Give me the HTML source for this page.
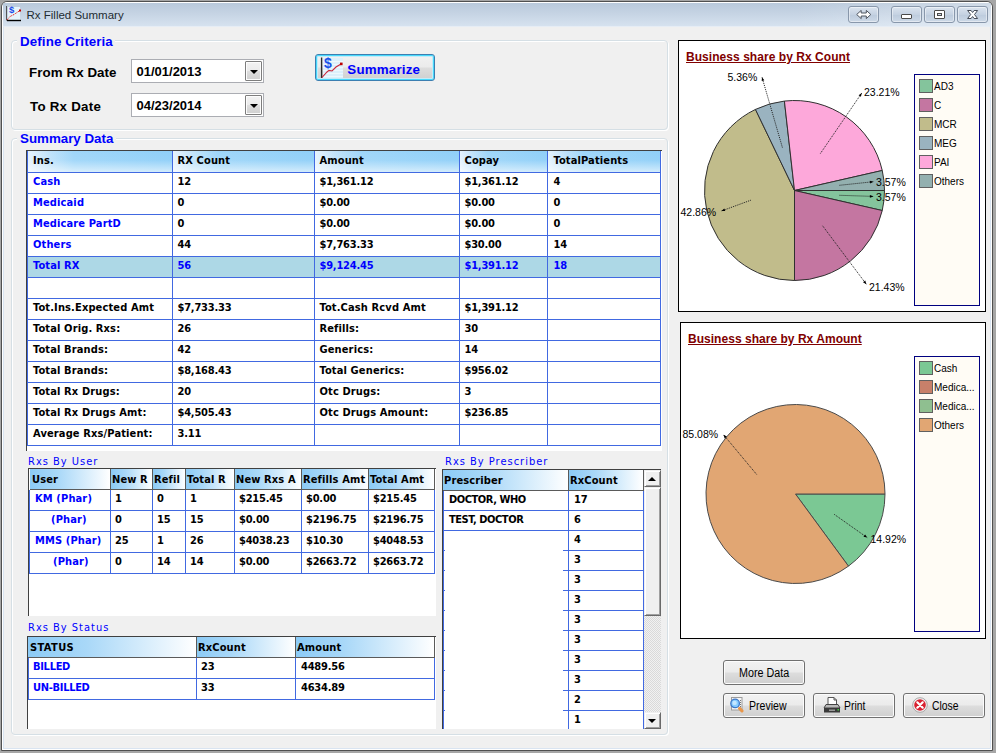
<!DOCTYPE html>
<html>
<head>
<meta charset="utf-8">
<title>Rx Filled Summary</title>
<style>
*{box-sizing:border-box;margin:0;padding:0}
html,body{width:996px;height:753px;overflow:hidden}
body{background:#a6a6a6;font-family:"Liberation Sans",sans-serif;position:relative}
.abs{position:absolute}
#win{position:absolute;left:1px;top:1px;width:992px;height:750px;border:1px solid #505050;border-radius:6px 6px 0 0;background:#f0f0f0;overflow:hidden}
#winin{position:absolute;left:0;top:0;right:0;bottom:0;border:1px solid #fff;border-radius:5px 5px 0 0}
#tbar{position:absolute;left:1px;top:1px;width:988px;height:24px;background:linear-gradient(to right,rgba(255,255,255,0) 0,rgba(255,255,255,0) 80%,rgba(255,255,255,.32) 100%),linear-gradient(#b9c9db 0,#c6d4e4 45%,#d7e3f0 100%)}
#client{position:absolute;left:1px;top:24px;width:988px;height:723px;background:#f0f0f0;border:1px solid #d9e4f1;border-top-color:#e6edf5}
.t{position:absolute;white-space:nowrap;line-height:1}
.ab{font-family:"Liberation Sans",sans-serif;font-weight:bold;font-size:13.33px;letter-spacing:.08px}
.tb{font-family:"DejaVu Sans Condensed","DejaVu Sans",sans-serif;font-weight:bold;font-size:11px;font-stretch:condensed;color:#000}
.lb{font-family:"DejaVu Sans Condensed","DejaVu Sans",sans-serif;font-stretch:condensed;font-size:11px;letter-spacing:1px;color:#0000ff}
.blue{color:#0000ff}
.gb{position:absolute;border:1px solid #d5dfe5;border-radius:4px;box-shadow:1px 1px 0 #fff, inset 1px 1px 0 #fff}
.gbt{position:absolute;background:#f0f0f0;height:14px}
.date{position:absolute;background:#fff;border:1px solid #abadb3;height:24px;width:133px}
.dd{position:absolute;right:1px;top:1px;width:17px;height:20px;border-radius:1px;border:1px solid #7d7d7d;background:linear-gradient(#f2f2f2 0,#ebebeb 48%,#dddddd 52%,#cfcfcf 100%);box-shadow:inset 0 0 0 1px #fcfcfc}
.dd:after{content:"";position:absolute;left:3.5px;top:7.5px;border:4px solid transparent;border-top:4px solid #000;border-bottom:0}
.btn{position:absolute;border:1px solid #707070;border-radius:3px;background:linear-gradient(#f2f2f2 0,#ebebeb 48%,#dddddd 52%,#cfcfcf 100%);box-shadow:inset 0 0 0 1px #fcfcfc}
.grid{position:absolute;background:#fff;overflow:hidden}
.hl{position:absolute;height:1px;background:#4169e1}
.vl{position:absolute;width:1px;background:#4169e1}
.h1{position:absolute;background:linear-gradient(to bottom,rgba(255,255,255,0) 0%,rgba(255,255,255,.06) 45%,rgba(255,255,255,.6) 100%),linear-gradient(to right,#e6f3fd 0%,#c2e3fa 14%,#9fd6f9 32%,#8fcff8 100%)}
.h2{position:absolute;background:linear-gradient(to right,#8ccbf6 0%,#a9d8f8 35%,#ffffff 100%)}
.cap{position:absolute;font-family:"Liberation Sans",sans-serif;font-size:10.5px;color:#000;white-space:nowrap;line-height:1}
.leg{position:absolute;font-family:"Liberation Sans",sans-serif;font-size:10px;color:#000;white-space:nowrap;line-height:1}
.sw{position:absolute;width:14px;height:14px;border:1px solid #606060}
.bt{position:absolute;font-family:"Liberation Sans",sans-serif;font-size:12.5px;color:#000;white-space:nowrap;line-height:1;transform-origin:0 0;transform:scaleX(.86)}
</style>
</head>
<body>

<div id="win">
 <div id="winin"></div>
 <div id="tbar"></div>
 <div id="client"></div>
</div>

<svg class="abs" style="left:6px;top:5px" width="16" height="17" viewBox="0 0 16 17">
 <rect x="2" y="2" width="12" height="13" fill="#e6f4fb"/>
 <path d="M0.5 1V15.5" stroke="#555" stroke-width="1"/>
 <path d="M1 15.5H15" stroke="#000" stroke-width="1.4"/>
 <path d="M1 15 L4 11.5 L8 9.5 L14 5.5" stroke="#e02020" stroke-width="1" fill="none" stroke-dasharray="1.2 0.8"/>
 <rect x="13" y="4.5" width="2" height="2" fill="#c00000"/>
 <text x="3" y="8.4" font-family="Liberation Sans" font-weight="bold" font-size="9.5" fill="#1848e8">$</text>
</svg>
<div class="t" style="left:26.5px;top:10px;font-size:11.5px;color:#222c32">Rx Filled Summary</div>

<div class="abs" style="left:848px;top:6px;width:31px;height:17px;border:1px solid #8897ab;border-radius:3px;background:linear-gradient(#dbe4ef,#c5d2e2 50%,#bccbdd 51%,#cdd9e7);box-shadow:inset 0 0 0 1px rgba(255,255,255,.45)"><svg class="abs" style="left:7px;top:3px" width="16" height="10" viewBox="0 0 16 10"><path d="M0.7 4.5 L5.2 0.4 V3 H10.3 V0.4 L14.8 4.5 L10.3 8.6 V6 H5.2 V8.6 Z" fill="#fff" stroke="#4f5660" stroke-width="1"/></svg></div>
<div class="abs" style="left:891px;top:6px;width:31px;height:17px;border:1px solid #8897ab;border-radius:3px;background:linear-gradient(#dbe4ef,#c5d2e2 50%,#bccbdd 51%,#cdd9e7);box-shadow:inset 0 0 0 1px rgba(255,255,255,.45)"><div class="abs" style="left:9px;top:7px;width:11px;height:5px;border:1px solid #4a4a4a;background:#fff;border-radius:1px"></div></div>
<div class="abs" style="left:924px;top:6px;width:31px;height:17px;border:1px solid #8897ab;border-radius:3px;background:linear-gradient(#dbe4ef,#c5d2e2 50%,#bccbdd 51%,#cdd9e7);box-shadow:inset 0 0 0 1px rgba(255,255,255,.45)"><div class="abs" style="left:9px;top:3px;width:11px;height:9px;border:1px solid #4a4a4a;background:#fff;border-radius:1px"></div><div class="abs" style="left:12px;top:6px;width:5px;height:3px;border:1px solid #4a4a4a;background:#cfd9e6"></div></div>
<div class="abs" style="left:957px;top:6px;width:31px;height:17px;border:1px solid #8897ab;border-radius:3px;background:linear-gradient(#dbe4ef,#c5d2e2 50%,#bccbdd 51%,#cdd9e7);box-shadow:inset 0 0 0 1px rgba(255,255,255,.45)"><svg class="abs" style="left:8.5px;top:3px" width="12" height="10" viewBox="0 0 12 10"><path d="M0.6 0.5 H4.1 L5.6 2.5 L7.1 0.5 H10.6 L7.5 4.5 L10.6 8.5 H7.1 L5.6 6.5 L4.1 8.5 H0.6 L3.7 4.5 Z" fill="#fff" stroke="#454c58" stroke-width="1" stroke-linejoin="round"/></svg></div>
<div class="gb" style="left:11px;top:40px;width:657px;height:90px"></div>
<div class="gbt" style="left:17px;top:35px;width:98px"></div>
<div class="t ab blue" style="left:20px;top:35px;letter-spacing:.12px">Define Criteria</div>
<div class="gb" style="left:11px;top:138px;width:657px;height:597px"></div>
<div class="gbt" style="left:17px;top:132px;width:99px"></div>
<div class="t ab blue" style="left:20px;top:132px;letter-spacing:0">Summary Data</div>
<div class="t ab" style="left:29px;top:66px">From Rx Date</div>
<div class="t ab" style="left:30px;top:100px;letter-spacing:.25px">To Rx Date</div>
<div class="date" style="left:131px;top:59px"><div class="t ab" style="left:4.5px;top:5px;font-size:13px;letter-spacing:0">01/01/2013</div><div class="dd"></div></div>
<div class="date" style="left:131px;top:93px"><div class="t ab" style="left:4.5px;top:5px;font-size:13px;letter-spacing:0">04/23/2014</div><div class="dd"></div></div>
<div class="btn" id="sumbtn" style="left:315px;top:54px;width:120px;height:27px;border-color:#3c7fb1;box-shadow:inset 0 0 0 1px #48d8fb, inset 0 0 0 2px #c4ecf9"></div>
<svg class="abs" style="left:319px;top:57px" width="25" height="22" viewBox="0 0 25 22">
 <rect x="4" y="1" width="20" height="20" fill="#dcf0fb"/>
 <path d="M4 4.5H24M4 7.5H24M4 10.5H24M4 13.5H24M4 16.5H24M4 19.5H24" stroke="#eef8fd" stroke-width="1"/>
 <path d="M2.6 0.5V21" stroke="#2a2a2a" stroke-width="1.4"/>
 <path d="M3 20.5 L8 15 L10 13.4 L13 14 L17 10 L22 7" stroke="#c8283c" stroke-width="1.1" fill="none"/>
 <rect x="21" y="5.6" width="2.6" height="2.6" fill="#c00000"/>
 <text x="5" y="10.6" font-family="Liberation Sans" font-weight="bold" font-size="14" fill="#1a50e8">$</text>
</svg>
<div class="t ab blue" style="left:347.3px;top:63px;letter-spacing:.2px">Summarize</div>

<div class="grid" style="left:26px;top:150px;width:636px;height:301px;border-left:1px solid #404040;border-top:1px solid #404040"></div>
<div class="h1" style="left:28px;top:151px;width:144px;height:21px"></div>
<div class="h1" style="left:173px;top:151px;width:141px;height:21px"></div>
<div class="h1" style="left:315px;top:151px;width:144px;height:21px"></div>
<div class="h1" style="left:460px;top:151px;width:87px;height:21px"></div>
<div class="h1" style="left:548px;top:151px;width:112px;height:21px"></div>
<div class="abs" style="left:28px;top:257px;width:632px;height:20px;background:#add8e6"></div>
<div class="hl" style="left:27px;top:172px;width:634px"></div>
<div class="hl" style="left:27px;top:193px;width:634px"></div>
<div class="hl" style="left:27px;top:214px;width:634px"></div>
<div class="hl" style="left:27px;top:235px;width:634px"></div>
<div class="hl" style="left:27px;top:256px;width:634px"></div>
<div class="hl" style="left:27px;top:277px;width:634px"></div>
<div class="hl" style="left:27px;top:298px;width:634px"></div>
<div class="hl" style="left:27px;top:319px;width:634px"></div>
<div class="hl" style="left:27px;top:340px;width:634px"></div>
<div class="hl" style="left:27px;top:361px;width:634px"></div>
<div class="hl" style="left:27px;top:382px;width:634px"></div>
<div class="hl" style="left:27px;top:403px;width:634px"></div>
<div class="hl" style="left:27px;top:424px;width:634px"></div>
<div class="hl" style="left:27px;top:445px;width:634px"></div>
<div class="vl" style="left:27px;top:151px;height:295px"></div>
<div class="vl" style="left:172px;top:151px;height:295px"></div>
<div class="vl" style="left:314px;top:151px;height:295px"></div>
<div class="vl" style="left:459px;top:151px;height:295px"></div>
<div class="vl" style="left:547px;top:151px;height:295px"></div>
<div class="vl" style="left:660px;top:151px;height:295px"></div>
<div class="t tb " style="left:33px;top:155px;letter-spacing:.13px">Ins.</div>
<div class="t tb " style="left:177.5px;top:155px;letter-spacing:.13px">RX Count</div>
<div class="t tb " style="left:319.5px;top:155px;letter-spacing:.13px">Amount</div>
<div class="t tb " style="left:464.5px;top:155px;letter-spacing:.13px">Copay</div>
<div class="t tb " style="left:553.5px;top:155px;letter-spacing:.13px">TotalPatients</div>
<div class="t tb blue" style="left:33px;top:176px;letter-spacing:.13px">Cash</div>
<div class="t tb " style="left:177.5px;top:176px;letter-spacing:-.2px">12</div>
<div class="t tb " style="left:319.5px;top:176px;letter-spacing:-.2px">$1,361.12</div>
<div class="t tb " style="left:464.5px;top:176px;letter-spacing:-.2px">$1,361.12</div>
<div class="t tb " style="left:553.5px;top:176px;letter-spacing:-.2px">4</div>
<div class="t tb blue" style="left:33px;top:197px;letter-spacing:.13px">Medicaid</div>
<div class="t tb " style="left:177.5px;top:197px;letter-spacing:-.2px">0</div>
<div class="t tb " style="left:319.5px;top:197px;letter-spacing:-.2px">$0.00</div>
<div class="t tb " style="left:464.5px;top:197px;letter-spacing:-.2px">$0.00</div>
<div class="t tb " style="left:553.5px;top:197px;letter-spacing:-.2px">0</div>
<div class="t tb blue" style="left:33px;top:218px;letter-spacing:.13px">Medicare PartD</div>
<div class="t tb " style="left:177.5px;top:218px;letter-spacing:-.2px">0</div>
<div class="t tb " style="left:319.5px;top:218px;letter-spacing:-.2px">$0.00</div>
<div class="t tb " style="left:464.5px;top:218px;letter-spacing:-.2px">$0.00</div>
<div class="t tb " style="left:553.5px;top:218px;letter-spacing:-.2px">0</div>
<div class="t tb blue" style="left:33px;top:239px;letter-spacing:.13px">Others</div>
<div class="t tb " style="left:177.5px;top:239px;letter-spacing:-.2px">44</div>
<div class="t tb " style="left:319.5px;top:239px;letter-spacing:-.2px">$7,763.33</div>
<div class="t tb " style="left:464.5px;top:239px;letter-spacing:-.2px">$30.00</div>
<div class="t tb " style="left:553.5px;top:239px;letter-spacing:-.2px">14</div>
<div class="t tb blue" style="left:33px;top:260px;letter-spacing:.13px">Total RX</div>
<div class="t tb blue" style="left:177.5px;top:260px;letter-spacing:-.2px">56</div>
<div class="t tb blue" style="left:319.5px;top:260px;letter-spacing:-.2px">$9,124.45</div>
<div class="t tb blue" style="left:464.5px;top:260px;letter-spacing:-.2px">$1,391.12</div>
<div class="t tb blue" style="left:553.5px;top:260px;letter-spacing:-.2px">18</div>
<div class="t tb " style="left:33px;top:302px;letter-spacing:.13px">Tot.Ins.Expected Amt</div>
<div class="t tb " style="left:177.5px;top:302px;letter-spacing:-.2px">$7,733.33</div>
<div class="t tb " style="left:319.5px;top:302px;letter-spacing:.13px">Tot.Cash Rcvd Amt</div>
<div class="t tb " style="left:464.5px;top:302px;letter-spacing:-.2px">$1,391.12</div>
<div class="t tb " style="left:33px;top:323px;letter-spacing:.13px">Total Orig. Rxs:</div>
<div class="t tb " style="left:177.5px;top:323px;letter-spacing:-.2px">26</div>
<div class="t tb " style="left:319.5px;top:323px;letter-spacing:.13px">Refills:</div>
<div class="t tb " style="left:464.5px;top:323px;letter-spacing:-.2px">30</div>
<div class="t tb " style="left:33px;top:344px;letter-spacing:.13px">Total Brands:</div>
<div class="t tb " style="left:177.5px;top:344px;letter-spacing:-.2px">42</div>
<div class="t tb " style="left:319.5px;top:344px;letter-spacing:.13px">Generics:</div>
<div class="t tb " style="left:464.5px;top:344px;letter-spacing:-.2px">14</div>
<div class="t tb " style="left:33px;top:365px;letter-spacing:.13px">Total Brands:</div>
<div class="t tb " style="left:177.5px;top:365px;letter-spacing:-.2px">$8,168.43</div>
<div class="t tb " style="left:319.5px;top:365px;letter-spacing:.13px">Total Generics:</div>
<div class="t tb " style="left:464.5px;top:365px;letter-spacing:-.2px">$956.02</div>
<div class="t tb " style="left:33px;top:386px;letter-spacing:.13px">Total Rx Drugs:</div>
<div class="t tb " style="left:177.5px;top:386px;letter-spacing:-.2px">20</div>
<div class="t tb " style="left:319.5px;top:386px;letter-spacing:.13px">Otc Drugs:</div>
<div class="t tb " style="left:464.5px;top:386px;letter-spacing:-.2px">3</div>
<div class="t tb " style="left:33px;top:407px;letter-spacing:.13px">Total Rx Drugs Amt:</div>
<div class="t tb " style="left:177.5px;top:407px;letter-spacing:-.2px">$4,505.43</div>
<div class="t tb " style="left:319.5px;top:407px;letter-spacing:.13px">Otc Drugs Amount:</div>
<div class="t tb " style="left:464.5px;top:407px;letter-spacing:-.2px">$236.85</div>
<div class="t tb " style="left:33px;top:428px;letter-spacing:.13px">Average Rxs/Patient:</div>
<div class="t tb " style="left:177.5px;top:428px;letter-spacing:-.2px">3.11</div>
<div class="t lb" style="left:28px;top:456px">Rxs By User</div>
<div class="t lb" style="left:445px;top:456px">Rxs By Prescriber</div>
<div class="t lb" style="left:28px;top:622px">Rxs By Status</div>
<div class="grid" style="left:28px;top:468px;width:408px;height:148px;border-left:1px solid #404040;border-top:1px solid #404040"></div>
<div class="h2" style="left:30px;top:469px;width:81px;height:21px;border-right:1px solid #5a5a5a;border-bottom:1px solid #5a5a5a"></div>
<div class="h2" style="left:111px;top:469px;width:42px;height:21px;border-right:1px solid #5a5a5a;border-bottom:1px solid #5a5a5a"></div>
<div class="h2" style="left:153px;top:469px;width:33px;height:21px;border-right:1px solid #5a5a5a;border-bottom:1px solid #5a5a5a"></div>
<div class="h2" style="left:186px;top:469px;width:49px;height:21px;border-right:1px solid #5a5a5a;border-bottom:1px solid #5a5a5a"></div>
<div class="h2" style="left:235px;top:469px;width:67px;height:21px;border-right:1px solid #5a5a5a;border-bottom:1px solid #5a5a5a"></div>
<div class="h2" style="left:302px;top:469px;width:67px;height:21px;border-right:1px solid #5a5a5a;border-bottom:1px solid #5a5a5a"></div>
<div class="h2" style="left:369px;top:469px;width:66px;height:21px;border-right:1px solid #5a5a5a;border-bottom:1px solid #5a5a5a"></div>
<div class="hl" style="left:29px;top:510px;width:406px"></div>
<div class="hl" style="left:29px;top:531px;width:406px"></div>
<div class="hl" style="left:29px;top:552px;width:406px"></div>
<div class="hl" style="left:29px;top:573px;width:406px"></div>
<div class="vl" style="left:29px;top:490px;height:84px"></div>
<div class="vl" style="left:110px;top:490px;height:84px"></div>
<div class="vl" style="left:152px;top:490px;height:84px"></div>
<div class="vl" style="left:185px;top:490px;height:84px"></div>
<div class="vl" style="left:234px;top:490px;height:84px"></div>
<div class="vl" style="left:301px;top:490px;height:84px"></div>
<div class="vl" style="left:368px;top:490px;height:84px"></div>
<div class="vl" style="left:434px;top:490px;height:84px"></div>
<div class="t tb " style="left:32px;top:474px;letter-spacing:.13px">User</div>
<div class="t tb " style="left:112px;top:474px;letter-spacing:.13px">New R</div>
<div class="t tb " style="left:154px;top:474px;letter-spacing:.13px">Refil</div>
<div class="t tb " style="left:187px;top:474px;letter-spacing:.13px">Total R</div>
<div class="t tb " style="left:236px;top:474px;letter-spacing:.13px">New Rxs A</div>
<div class="t tb " style="left:303px;top:474px;letter-spacing:.13px">Refills Amt</div>
<div class="t tb " style="left:370px;top:474px;letter-spacing:.13px">Total Amt</div>
<div class="t tb blue" style="left:35px;top:493px;letter-spacing:.13px">KM (Phar)</div>
<div class="t tb " style="left:115px;top:493px;letter-spacing:-.2px">1</div>
<div class="t tb " style="left:157px;top:493px;letter-spacing:-.2px">0</div>
<div class="t tb " style="left:190px;top:493px;letter-spacing:-.2px">1</div>
<div class="t tb " style="left:239px;top:493px;letter-spacing:-.2px">$215.45</div>
<div class="t tb " style="left:306px;top:493px;letter-spacing:-.2px">$0.00</div>
<div class="t tb " style="left:373px;top:493px;letter-spacing:-.2px">$215.45</div>
<div class="t tb blue" style="left:51px;top:514px;letter-spacing:.13px">(Phar)</div>
<div class="t tb " style="left:115px;top:514px;letter-spacing:-.2px">0</div>
<div class="t tb " style="left:157px;top:514px;letter-spacing:-.2px">15</div>
<div class="t tb " style="left:190px;top:514px;letter-spacing:-.2px">15</div>
<div class="t tb " style="left:239px;top:514px;letter-spacing:-.2px">$0.00</div>
<div class="t tb " style="left:306px;top:514px;letter-spacing:-.2px">$2196.75</div>
<div class="t tb " style="left:373px;top:514px;letter-spacing:-.2px">$2196.75</div>
<div class="t tb blue" style="left:35px;top:535px;letter-spacing:.13px">MMS (Phar)</div>
<div class="t tb " style="left:115px;top:535px;letter-spacing:-.2px">25</div>
<div class="t tb " style="left:157px;top:535px;letter-spacing:-.2px">1</div>
<div class="t tb " style="left:190px;top:535px;letter-spacing:-.2px">26</div>
<div class="t tb " style="left:239px;top:535px;letter-spacing:-.2px">$4038.23</div>
<div class="t tb " style="left:306px;top:535px;letter-spacing:-.2px">$10.30</div>
<div class="t tb " style="left:373px;top:535px;letter-spacing:-.2px">$4048.53</div>
<div class="t tb blue" style="left:53px;top:556px;letter-spacing:.13px">(Phar)</div>
<div class="t tb " style="left:115px;top:556px;letter-spacing:-.2px">0</div>
<div class="t tb " style="left:157px;top:556px;letter-spacing:-.2px">14</div>
<div class="t tb " style="left:190px;top:556px;letter-spacing:-.2px">14</div>
<div class="t tb " style="left:239px;top:556px;letter-spacing:-.2px">$0.00</div>
<div class="t tb " style="left:306px;top:556px;letter-spacing:-.2px">$2663.72</div>
<div class="t tb " style="left:373px;top:556px;letter-spacing:-.2px">$2663.72</div>
<div class="grid" style="left:442px;top:469px;width:219px;height:260px;border-left:1px solid #404040;border-top:1px solid #404040"></div>
<div class="h2" style="left:443px;top:470px;width:126px;height:21px;border-right:1px solid #5a5a5a;border-bottom:1px solid #5a5a5a"></div>
<div class="h2" style="left:569px;top:470px;width:75px;height:21px;border-right:1px solid #5a5a5a;border-bottom:1px solid #5a5a5a"></div>
<div class="hl" style="left:443px;top:510px;width:201px"></div>
<div class="hl" style="left:443px;top:530px;width:201px"></div>
<div class="hl" style="left:563px;top:550px;width:81px"></div>
<div class="hl" style="left:443px;top:550px;width:2px"></div>
<div class="hl" style="left:563px;top:570px;width:81px"></div>
<div class="hl" style="left:443px;top:570px;width:2px"></div>
<div class="hl" style="left:563px;top:590px;width:81px"></div>
<div class="hl" style="left:443px;top:590px;width:2px"></div>
<div class="hl" style="left:563px;top:610px;width:81px"></div>
<div class="hl" style="left:443px;top:610px;width:2px"></div>
<div class="hl" style="left:563px;top:630px;width:81px"></div>
<div class="hl" style="left:443px;top:630px;width:2px"></div>
<div class="hl" style="left:563px;top:650px;width:81px"></div>
<div class="hl" style="left:443px;top:650px;width:2px"></div>
<div class="hl" style="left:563px;top:670px;width:81px"></div>
<div class="hl" style="left:443px;top:670px;width:2px"></div>
<div class="hl" style="left:563px;top:690px;width:81px"></div>
<div class="hl" style="left:443px;top:690px;width:2px"></div>
<div class="hl" style="left:563px;top:710px;width:81px"></div>
<div class="hl" style="left:443px;top:710px;width:2px"></div>
<div class="vl" style="left:568px;top:491px;height:238px"></div>
<div class="vl" style="left:443px;top:491px;height:238px"></div>
<div class="vl" style="left:643px;top:491px;height:238px"></div>
<div class="t tb " style="left:444px;top:475px;letter-spacing:.13px">Prescriber</div>
<div class="t tb " style="left:570px;top:475px;letter-spacing:.13px">RxCount</div>
<div class="t tb" style="left:449px;top:494px;letter-spacing:-.45px">DOCTOR, WHO</div>
<div class="t tb" style="left:449px;top:514px;letter-spacing:-.45px">TEST, DOCTOR</div>
<div class="t tb " style="left:574px;top:494px;letter-spacing:-.2px">17</div>
<div class="t tb " style="left:574px;top:514px;letter-spacing:-.2px">6</div>
<div class="t tb " style="left:574px;top:534px;letter-spacing:-.2px">4</div>
<div class="t tb " style="left:574px;top:554px;letter-spacing:-.2px">3</div>
<div class="t tb " style="left:574px;top:574px;letter-spacing:-.2px">3</div>
<div class="t tb " style="left:574px;top:594px;letter-spacing:-.2px">3</div>
<div class="t tb " style="left:574px;top:614px;letter-spacing:-.2px">3</div>
<div class="t tb " style="left:574px;top:634px;letter-spacing:-.2px">3</div>
<div class="t tb " style="left:574px;top:654px;letter-spacing:-.2px">3</div>
<div class="t tb " style="left:574px;top:674px;letter-spacing:-.2px">3</div>
<div class="t tb " style="left:574px;top:694px;letter-spacing:-.2px">2</div>
<div class="t tb " style="left:574px;top:714px;letter-spacing:-.2px">1</div>
<div class="abs" style="left:644px;top:470px;width:17px;height:259px;background:#e4e4e4;background-image:repeating-conic-gradient(#f1f1f1 0 25%,#d9d9d9 0 50%);background-size:2px 2px"></div>
<div class="abs" style="left:644px;top:470px;width:17px;height:17px;background:#f0f0f0;border:1px solid;border-color:#f0f0f0 #696969 #696969 #f0f0f0;box-shadow:inset 1px 1px 0 #fff, inset -1px -1px 0 #a0a0a0"><div class="abs" style="left:3px;top:6px;border:4px solid transparent;border-bottom:4px solid #000;border-top:0"></div></div>
<div class="abs" style="left:644px;top:487px;width:17px;height:129px;background:#f0f0f0;border:1px solid;border-color:#f0f0f0 #696969 #696969 #f0f0f0;box-shadow:inset 1px 1px 0 #fff, inset -1px -1px 0 #a0a0a0"></div>
<div class="abs" style="left:644px;top:712px;width:17px;height:17px;background:#f0f0f0;border:1px solid;border-color:#f0f0f0 #696969 #696969 #f0f0f0;box-shadow:inset 1px 1px 0 #fff, inset -1px -1px 0 #a0a0a0"><div class="abs" style="left:3px;top:6px;border:4px solid transparent;border-top:4px solid #000;border-bottom:0"></div></div>
<div class="grid" style="left:27px;top:636px;width:409px;height:93px;border-left:1px solid #404040;border-top:1px solid #404040"></div>
<div class="h2" style="left:28px;top:637px;width:169px;height:21px;border-right:1px solid #5a5a5a;border-bottom:1px solid #5a5a5a"></div>
<div class="h2" style="left:197px;top:637px;width:99px;height:21px;border-right:1px solid #5a5a5a;border-bottom:1px solid #5a5a5a"></div>
<div class="h2" style="left:296px;top:637px;width:139px;height:21px;border-right:1px solid #5a5a5a;border-bottom:1px solid #5a5a5a"></div>
<div class="hl" style="left:28px;top:678px;width:407px"></div>
<div class="hl" style="left:28px;top:699px;width:407px"></div>
<div class="vl" style="left:28px;top:658px;height:42px"></div>
<div class="vl" style="left:196px;top:658px;height:42px"></div>
<div class="vl" style="left:295px;top:658px;height:42px"></div>
<div class="vl" style="left:434px;top:658px;height:42px"></div>
<div class="t tb" style="left:30px;top:642px;letter-spacing:.4px">STATUS</div>
<div class="t tb " style="left:198px;top:642px;letter-spacing:.13px">RxCount</div>
<div class="t tb " style="left:297px;top:642px;letter-spacing:.13px">Amount</div>
<div class="t tb blue" style="left:33px;top:661px;letter-spacing:-.3px">BILLED</div>
<div class="t tb " style="left:201px;top:661px;letter-spacing:-.2px">23</div>
<div class="t tb " style="left:301px;top:661px;letter-spacing:-.2px">4489.56</div>
<div class="t tb blue" style="left:33px;top:682px;letter-spacing:-.3px">UN-BILLED</div>
<div class="t tb " style="left:201px;top:682px;letter-spacing:-.2px">33</div>
<div class="t tb " style="left:301px;top:682px;letter-spacing:-.2px">4634.89</div>
<div class="abs" style="left:678px;top:40px;width:308px;height:272px;background:#fff;border:1px solid #000"></div>
<div class="abs" style="left:680px;top:322px;width:306px;height:317px;background:#fff;border:1px solid #000"></div>
<svg class="abs" style="left:0;top:0" width="996" height="753" viewBox="0 0 996 753">
<path d="M794.5 190.5 L884.50 190.50 A90 90 0 0 1 882.24 210.53 Z" fill="#84c49c" stroke="#303030" stroke-width="1" stroke-linejoin="round"/>
<path d="M794.5 190.5 L882.24 210.53 A90 90 0 0 1 794.50 280.50 Z" fill="#c476a1" stroke="#303030" stroke-width="1" stroke-linejoin="round"/>
<path d="M794.5 190.5 L794.50 280.50 A90 90 0 0 1 755.45 109.41 Z" fill="#c1bc8b" stroke="#303030" stroke-width="1" stroke-linejoin="round"/>
<path d="M794.5 190.5 L755.45 109.41 A90 90 0 0 1 784.42 101.07 Z" fill="#9ab3c0" stroke="#303030" stroke-width="1" stroke-linejoin="round"/>
<path d="M794.5 190.5 L784.42 101.07 A90 90 0 0 1 882.24 170.47 Z" fill="#fda8da" stroke="#303030" stroke-width="1" stroke-linejoin="round"/>
<path d="M794.5 190.5 L882.24 170.47 A90 90 0 0 1 884.50 190.50 Z" fill="#93b0af" stroke="#303030" stroke-width="1" stroke-linejoin="round"/>
<path d="M820.4 153.5 L861.8 93.0" stroke="#202020" stroke-width="1" stroke-dasharray="1 1" fill="none"/><path d="M861.8 93.0 L860.9 96.8 L858.6 95.2 Z" fill="#000"/>
<path d="M839.5 185.3 L873.5 181.7" stroke="#202020" stroke-width="1" stroke-dasharray="1 1" fill="none"/><path d="M873.5 181.7 L870.1 183.5 L869.8 180.7 Z" fill="#000"/>
<path d="M839.5 195.3 L873.5 196.4" stroke="#202020" stroke-width="1" stroke-dasharray="1 1" fill="none"/><path d="M873.5 196.4 L869.9 197.7 L869.9 194.9 Z" fill="#000"/>
<path d="M750.8 200.2 L721.4 211.0" stroke="#202020" stroke-width="1" stroke-dasharray="1 1" fill="none"/><path d="M721.4 211.0 L724.3 208.4 L725.3 211.1 Z" fill="#000"/>
<path d="M822.6 225.8 L866.3 284.2" stroke="#202020" stroke-width="1" stroke-dasharray="1 1" fill="none"/><path d="M866.3 284.2 L863.0 282.2 L865.3 280.5 Z" fill="#000"/>
<path d="M782.4 147.5 L762.0 77.2" stroke="#202020" stroke-width="1" stroke-dasharray="1 1" fill="none"/><path d="M762.0 77.2 L764.3 80.3 L761.7 81.0 Z" fill="#000"/>
<path d="M795.5 494 L885.00 494.00 A89.5 89.5 0 0 1 848.47 566.14 Z" fill="#7bc894" stroke="#4a4a4a" stroke-width="1" stroke-linejoin="round"/>
<path d="M795.5 494 L848.47 566.14 A89.5 89.5 0 1 1 885.00 494.00 Z" fill="#e1a673" stroke="#4a4a4a" stroke-width="1" stroke-linejoin="round"/>
<path d="M756.6 474.4 L723.5 434.7" stroke="#202020" stroke-width="1" stroke-dasharray="1 1" fill="none"/><path d="M723.5 434.7 L726.9 436.6 L724.7 438.4 Z" fill="#000"/>
<path d="M834.3 514.4 L867.2 537.6" stroke="#202020" stroke-width="1" stroke-dasharray="1 1" fill="none"/><path d="M867.2 537.6 L863.5 536.7 L865.1 534.4 Z" fill="#000"/>
</svg>
<div class="t" style="left:686px;top:51px;font-weight:bold;font-size:12px;color:#800000;text-decoration:underline;letter-spacing:.05px">Business share by Rx Count</div>
<div class="t" style="left:688px;top:333px;font-weight:bold;font-size:12px;color:#800000;text-decoration:underline;letter-spacing:.03px">Business share by Rx Amount</div>
<div class="cap" style="left:727.5px;top:72px">5.36%</div>
<div class="cap" style="left:864px;top:87px">23.21%</div>
<div class="cap" style="left:876px;top:177px">3.57%</div>
<div class="cap" style="left:876px;top:192px">3.57%</div>
<div class="cap" style="left:680.5px;top:206.5px">42.86%</div>
<div class="cap" style="left:869px;top:282px">21.43%</div>
<div class="cap" style="left:682.5px;top:429px">85.08%</div>
<div class="cap" style="left:870.5px;top:534px">14.92%</div>
<div class="abs" style="left:914px;top:74px;width:66px;height:232px;background:#fffcf5;border:1px solid #000080"></div>
<div class="sw" style="left:919px;top:79px;background:#84c49c"></div>
<div class="leg" style="left:934px;top:82px">AD3</div>
<div class="sw" style="left:919px;top:98px;background:#c476a1"></div>
<div class="leg" style="left:934px;top:101px">C</div>
<div class="sw" style="left:919px;top:117px;background:#c1bc8b"></div>
<div class="leg" style="left:934px;top:120px">MCR</div>
<div class="sw" style="left:919px;top:136px;background:#9ab3c0"></div>
<div class="leg" style="left:934px;top:139px">MEG</div>
<div class="sw" style="left:919px;top:155px;background:#fda8da"></div>
<div class="leg" style="left:934px;top:158px">PAI</div>
<div class="sw" style="left:919px;top:174px;background:#93b0af"></div>
<div class="leg" style="left:934px;top:177px">Others</div>
<div class="abs" style="left:914px;top:356px;width:66px;height:276px;background:#fffcf5;border:1px solid #000080"></div>
<div class="sw" style="left:919px;top:361px;background:#7bc894"></div>
<div class="leg" style="left:934px;top:364px">Cash</div>
<div class="sw" style="left:919px;top:380px;background:#c8806a"></div>
<div class="leg" style="left:934px;top:383px">Medica...</div>
<div class="sw" style="left:919px;top:399px;background:#8fbf90"></div>
<div class="leg" style="left:934px;top:402px">Medica...</div>
<div class="sw" style="left:919px;top:418px;background:#e1a673"></div>
<div class="leg" style="left:934px;top:421px">Others</div>
<div class="btn" style="left:723px;top:660px;width:82px;height:25px"></div>
<div class="btn" style="left:723px;top:693px;width:82px;height:25px"></div>
<div class="btn" style="left:813px;top:693px;width:82px;height:25px"></div>
<div class="btn" style="left:903px;top:693px;width:82px;height:25px"></div>
<div class="bt" style="left:738.5px;top:667px">More Data</div>
<div class="bt" style="left:748.5px;top:700px;transform:scaleX(.845)">Preview</div>
<div class="bt" style="left:843.5px;top:700px;transform:scaleX(.83)">Print</div>
<div class="bt" style="left:931.5px;top:700px;transform:scaleX(.83)">Close</div>
<svg class="abs" style="left:730px;top:696px" width="16" height="18" viewBox="0 0 16 18">
 <rect x="1.5" y="1.5" width="10.5" height="12.5" fill="#f6f6f6" stroke="#9c9c9c"/>
 <path d="M10 4.5H11M10 6.5H11M10 8.5H11M10 10.5H11" stroke="#777" stroke-width="1"/>
 <circle cx="5.1" cy="7.4" r="4.3" fill="#86ccff" stroke="#3f78c8" stroke-width="1.3"/>
 <circle cx="4.6" cy="6.9" r="2.2" fill="#c4e6ff"/>
 <path d="M9.6 12.4 L12 14.8" stroke="#e8964a" stroke-width="3.2" stroke-linecap="round"/>
</svg>
<svg class="abs" style="left:823px;top:696px" width="18" height="18" viewBox="0 0 18 18">
 <path d="M5 1.5 H11 L13.5 4 V9 H5 Z" fill="#fff" stroke="#555"/>
 <path d="M11 1.5 V4 H13.5" fill="none" stroke="#555"/>
 <path d="M3 8.5 H15 L17 12 H1 Z" fill="#b8b8b8" stroke="#444"/>
 <rect x="1" y="12" width="16" height="4.5" fill="#3a3a3a"/>
 <rect x="6" y="13.5" width="6" height="1.5" fill="#999"/>
 <rect x="14.5" y="13" width="1.5" height="1.5" fill="#40d040"/>
</svg>
<svg class="abs" style="left:912px;top:697px" width="16" height="16" viewBox="0 0 16 16">
 <circle cx="8" cy="8" r="7.3" fill="#f4f4f4" stroke="#a8a8a8"/>
 <circle cx="8" cy="8" r="5.8" fill="#d82030"/>
 <path d="M5.3 5.3 L10.7 10.7 M10.7 5.3 L5.3 10.7" stroke="#fff" stroke-width="2.2" stroke-linecap="round"/>
</svg>
</body>
</html>
